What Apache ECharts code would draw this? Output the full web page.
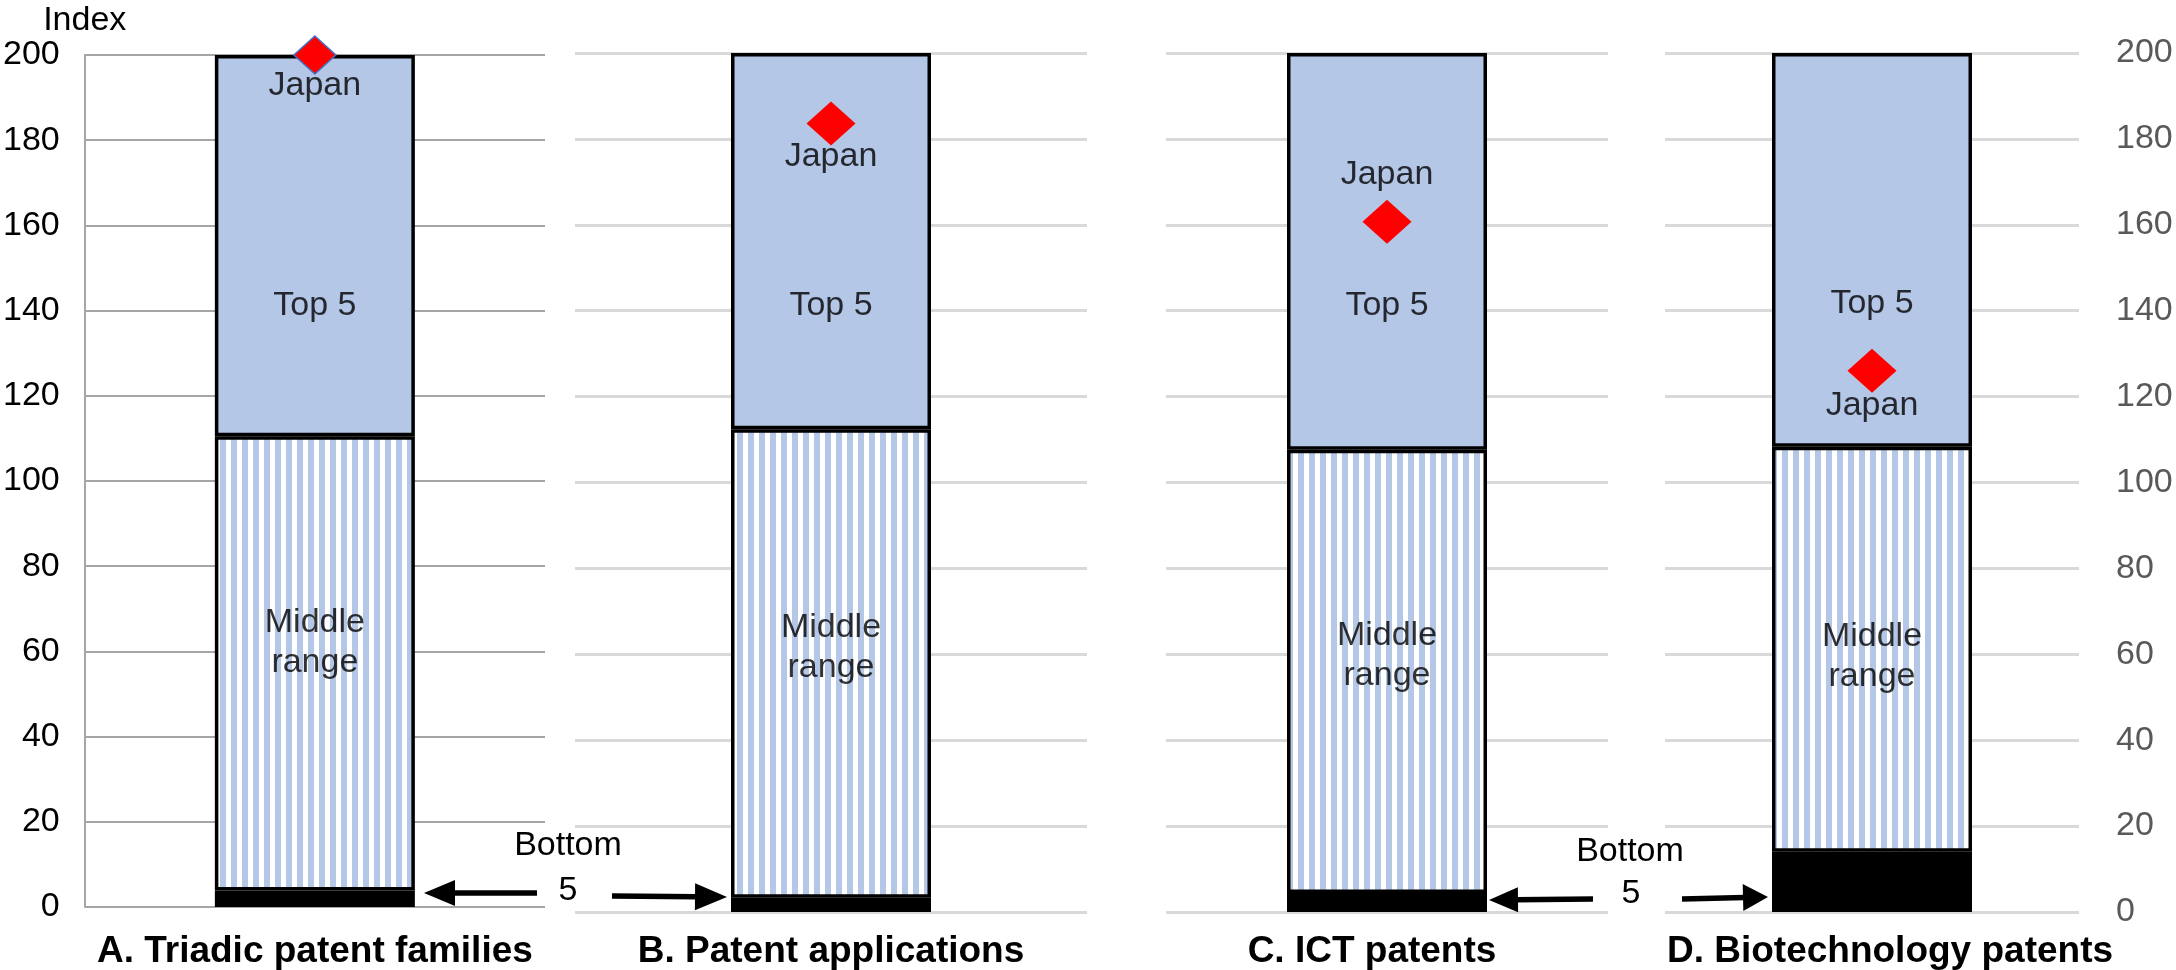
<!DOCTYPE html>
<html><head><meta charset="utf-8">
<script src="https://cdn.jsdelivr.net/npm/echarts@6/dist/echarts.min.js"></script>
<style>html,body{margin:0;padding:0;background:#fff}#c{width:2176px;height:970px}</style>
</head><body><div id="c"></div>
<script>
// ---- data ----
const panels = ['A. Triadic patent families', 'B. Patent applications', 'C. ICT patents', 'D. Biotechnology patents'];
const bottom5Top = [3.9, 3.3, 4.4, 14.0];          // index level of the bottom-5 average
const middleRangeTop = [110.5, 112.4, 107.6, 108.3];  // top of middle range
const top5Top = [200, 200, 200, 200];              // top of top-5 range
const japan = [200, 183.6, 160.7, 126.0];          // Japan's index
const yMin = 0, yMax = 200, yStep = 20;
const segmentNames = ['Bottom 5', 'Middle range', 'Top 5'];

// ---- layout (pixels / label anchors) ----
const FONT = '"Liberation Sans", Arial, sans-serif';
const grids = [
  {left: 84,   top: 55, width: 461, height: 853},
  {left: 575,  top: 53, width: 512, height: 859},
  {left: 1166, top: 53, width: 442, height: 859},
  {left: 1665, top: 53, width: 414, height: 859}
];
const japanLabelAt = [192.8, 175.8, 171.6, 118.0];
const top5LabelAt = [141.1, 141.1, 141.1, 141.6];
const middleLabelAt = [62.1, 61.6, 59.7, 59.5];
const catLabelPad = [[0,0,0,0],[0,0,0,0],[0,30,0,0],[0,0,0,36]];

// striped pattern for the middle range
const pc = document.createElement('canvas');
pc.width = 11; pc.height = 4;
const pctx = pc.getContext('2d');
pctx.fillStyle = '#ffffff'; pctx.fillRect(0, 0, 11, 4);
pctx.fillStyle = '#b4c7e7'; pctx.fillRect(0, 0, 6, 4);

const chart = echarts.init(document.getElementById('c'), null, {renderer: 'canvas'});

const xAxis = [], yAxis = [], series = [];
panels.forEach((p, i) => {
  xAxis.push({
    type: 'category', gridIndex: i, data: [p],
    axisLine: {show: false}, axisTick: {show: false}, splitLine: {show: false},
    axisLabel: {interval: 0, fontFamily: FONT, fontSize: 37, fontWeight: 'bold', color: '#000',
      margin: i === 0 ? 26 : 21, padding: catLabelPad[i]}
  });
  const isA = i === 0, isD = i === 3;
  yAxis.push({
    type: 'value', gridIndex: i, min: yMin, max: yMax, interval: yStep,
    position: isD ? 'right' : 'left',
    name: isA ? 'Index' : '', nameLocation: 'end', nameGap: 16,
    nameTextStyle: {fontFamily: FONT, fontSize: 34, color: '#000', align: 'center'},
    axisLine: {show: isA, lineStyle: {color: '#a6a6a6', width: 2}},
    axisTick: {show: false},
    axisLabel: {show: isA || isD, fontFamily: FONT, fontSize: 34,
      color: isA ? '#000' : '#595959', margin: isA ? 25 : 37, align: isA ? 'right' : 'left'},
    splitLine: {show: true, lineStyle: {color: isA ? '#a6a6a6' : '#d9d9d9', width: isA ? 2 : 3}}
  });
  const segVals = [bottom5Top[i], middleRangeTop[i] - bottom5Top[i], top5Top[i] - middleRangeTop[i]];
  const segColors = ['#000000', {image: pc, repeat: 'repeat'}, '#b4c7e7'];
  segVals.forEach((v, k) => {
    series.push({
      type: 'bar', name: segmentNames[k], xAxisIndex: i, yAxisIndex: i, stack: 'p' + i,
      barWidth: 200, data: [v], silent: true,
      itemStyle: {color: segColors[k], borderColor: '#000', borderWidth: 3.5, opacity: 1}
    });
  });
  series.push({
    type: 'scatter', name: 'Japan', xAxisIndex: i, yAxisIndex: i, z: 5, silent: true,
    symbol: 'diamond', symbolSize: isA ? [42, 38] : [49, 44],
    data: [[0, japan[i]]],
    itemStyle: {color: '#ff0000', opacity: 1, borderColor: isA ? '#4472c4' : '#ff0000', borderWidth: isA ? 1.5 : 0}
  });
  series.push({
    type: 'scatter', xAxisIndex: i, yAxisIndex: i, z: 6, silent: true, symbolSize: 0,
    data: [
      {name: 'Japan', value: [0, japanLabelAt[i]]},
      {name: 'Top 5', value: [0, top5LabelAt[i]]},
      {name: 'Middle\nrange', value: [0, middleLabelAt[i]]}
    ],
    label: {show: true, position: 'inside', formatter: '{b}', fontFamily: FONT, fontSize: 34,
      lineHeight: 40, color: '#000'}
  });
});

function arrow(x1, y1, x2, y2, headLen, headHalf, w) {
  const dx = x2 - x1, dy = y2 - y1, L = Math.hypot(dx, dy), ux = dx / L, uy = dy / L;
  const bx = x2 - ux * headLen, by = y2 - uy * headLen;
  return [
    {type: 'line', shape: {x1: x1, y1: y1, x2: bx + ux * 2, y2: by + uy * 2}, style: {stroke: '#000', lineWidth: w}, z: 10},
    {type: 'polygon', shape: {points: [[x2, y2], [bx - uy * headHalf, by + ux * headHalf], [bx + uy * headHalf, by - ux * headHalf]]}, style: {fill: '#000'}, z: 10}
  ];
}
function txt(x, y, t) {
  return {type: 'text', x: x, y: y, z: 10, style: {text: t, font: '34px ' + FONT, fill: '#000', align: 'center', verticalAlign: 'middle'}};
}
const graphic = [].concat(
  arrow(537, 893, 424, 893, 31, 13, 5.5),
  arrow(612, 896, 727, 897, 32, 13.5, 5.5),
  arrow(1593, 899, 1489, 900, 29, 12.5, 5.5),
  arrow(1682, 899, 1768, 897, 25, 13.5, 5.5),
  [txt(568, 846, 'Bottom'), txt(568, 891, '5'), txt(1630, 852, 'Bottom'), txt(1631, 894, '5')]
);

chart.setOption({
  animation: false,
  backgroundColor: '#ffffff',
  grid: grids.map(g => Object.assign({containLabel: false}, g)),
  xAxis: xAxis, yAxis: yAxis, series: series, graphic: graphic
});
</script></body></html>
